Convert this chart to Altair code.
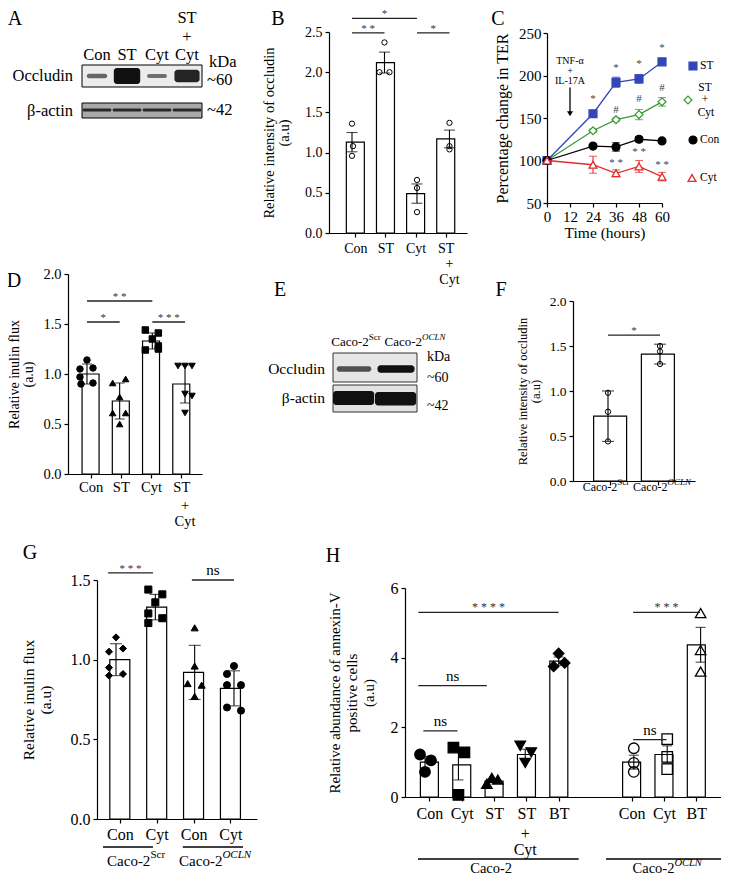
import altair as alt
import pandas as pd

FONT = "Liberation Serif"
W, H = 713, 869
ONE = pd.DataFrame({"k": [0]})


def cx(p):  # reference page x -> chart x
    return p - 8


def cy(p):
    return p - 8


# ---------------- data ----------------
# A: western blot, relative band intensity (read by eye)
a_lanes = ["Con", "ST", "Cyt", "ST|+|Cyt"]
a_occludin = [0.30, 1.00, 0.22, 0.85]
a_actin = [0.85, 0.85, 0.85, 0.85]

# B: relative intensity of occludin
b_cats = ["Con", "ST", "Cyt", "ST|+|Cyt"]
b_mean = [1.13, 2.12, 0.49, 1.17]
b_err = [0.12, 0.13, 0.12, 0.11]
b_pts = [[1.36, 1.08, 0.96], [2.37, 2.00, 2.00], [0.66, 0.56, 0.26], [1.37, 1.08, 1.04]]

# C: percentage change in TER
c_time = [0, 24, 36, 48, 60]
c_names = ["ST", "ST + Cyt", "Con", "Cyt"]
c_st = [100, 155, 192, 196, 216]
c_stcyt = [100, 135, 148, 154, 169]
c_con = [100, 117, 116, 125, 123]
c_cyt = [100, 95, 85, 93, 81]
c_st_err = [0, 3, 6, 5, 3]
c_stcyt_err = [0, 2, 2, 6, 5]
c_con_err = [0, 2, 5, 3, 2]
c_cyt_err = [0, 10, 4, 7, 5]
c_mark_t = [24, 36, 48, 60, 36, 48, 60, 36, 48, 60]
c_mark_v = [172, 209, 213, 232, 159, 172, 185, 97, 110, 95]
c_mark_txt = ["*", "*", "*", "*", "#", "#", "#", "* *", "* *", "* *"]

# D: relative inulin flux
d_cats = ["Con", "ST", "Cyt", "ST|+|Cyt"]
d_mean = [1.00, 0.73, 1.33, 0.90]
d_err = [0.10, 0.18, 0.08, 0.19]
d_pts = [[1.14, 1.05, 1.06, 0.97, 0.91, 0.90],
         [0.95, 0.91, 0.77, 0.61, 0.61, 0.50],
         [1.44, 1.41, 1.35, 1.28, 1.24, 1.25],
         [1.08, 1.08, 1.08, 0.80, 0.78, 0.61]]

# E: western blot
e_lanes = ["Caco-2|Scr", "Caco-2|OCLN"]
e_occludin = [0.55, 1.00]
e_actin = [1.0, 1.0]

# F: relative intensity of occludin
f_mean = [0.72, 1.41]
f_err = [0.28, 0.11]
f_pts = [[0.98, 0.77, 0.44], [1.50, 1.44, 1.30]]

# G: relative inulin flux
g_cats = ["Con", "Cyt", "Con", "Cyt"]
g_mean = [1.00, 1.33, 0.92, 0.82]
g_err = [0.10, 0.08, 0.17, 0.11]
g_pts = [[1.14, 1.05, 1.07, 0.95, 0.90, 0.91],
         [1.44, 1.41, 1.36, 1.29, 1.23, 1.26],
         [1.20, 0.96, 0.85, 0.84, 0.77],
         [0.96, 0.91, 0.84, 0.84, 0.70, 0.68]]

# H: relative abundance of annexin-V positive cells
h_cats = ["Con", "Cyt", "ST", "ST|+|Cyt", "BT", "Con", "Cyt", "BT"]
h_mean = [1.00, 0.92, 0.46, 1.22, 3.90, 1.00, 1.22, 4.37]
h_err = [0.17, 0.43, 0.05, 0.15, 0.12, 0.20, 0.25, 0.50]
h_pts = [[1.22, 1.05, 0.72], [1.42, 1.28, 0.06], [0.38, 0.55, 0.50], [1.47, 1.28, 0.98],
         [4.12, 3.75, 3.85], [1.40, 0.98, 0.72], [1.66, 1.15, 0.80], [5.28, 4.22, 3.60]]

# ---------------- helpers ----------------
TW = {"C": 667, "a": 444, "c": 444, "o": 500, "-": 333, "2": 500, "S": 556, "r": 333,
      "O": 722, "L": 611, "N": 722}
TWI = {"O": 722, "C": 667, "L": 556, "N": 667}


def tw(s, fs, italic=False):
    t = TWI if italic else TW
    return sum(t.get(ch, 500) for ch in s) * fs / 1000


def first_line_expr(vals, labs):
    expr = "''"
    for v, lab in reversed(list(zip(vals, labs))):
        expr = f"datum.value == {v} ? '{lab.split('|')[0]}' : ({expr})"
    return expr


def scale(dom, r0, r1):
    return alt.Scale(domain=list(dom), range=[r0, r1], nice=False, zero=False)


class P:
    def __init__(self, xs, ys):
        self.xs, self.ys = xs, ys

    def X(self, f, axis=None):
        return alt.X(f, scale=self.xs, axis=axis)

    def Y(self, f, axis=None):
        return alt.Y(f, scale=self.ys, axis=axis)

    def XD(self, v):
        return alt.XDatum(v, scale=self.xs, axis=None)

    def YD(self, v):
        return alt.YDatum(v, scale=self.ys, axis=None)


def txt(x, y, text, fs, align="center", baseline="middle", dx=0, dy=0,
        italic=False, color="black"):
    kw = dict(align=align, baseline=baseline, fontSize=fs, dx=dx, dy=dy,
              color=color, text=text, font=FONT)
    if italic:
        kw["fontStyle"] = "italic"
    return alt.Chart(ONE).mark_text(**kw).encode(x=x, y=y)


def sup_label(x, y, main, sup, fs, sfs, italic, extra=0):
    d = (tw(main, fs) - tw(sup, sfs, italic)) / 2 + extra
    return [txt(x, y, main, fs, align="right", dx=d),
            txt(x, y, sup, sfs, align="left", dx=d, dy=-0.38 * fs, italic=italic)]


def bar_panel(cats, pos, means, errs, pts, jit, shapes, fills, *, xr, xd, yr, yd,
              yticks, yfmt, ytitle, tpad, tfs, lfs, lpad, bw, capw, psize,
              sig=(), xlabels=True, tlh=None, pstroke=1.0, more_lines=()):
    xs = scale(xd, cx(xr[0]), cx(xr[1]))
    ys = scale(yd, cy(yr[0]), cy(yr[1]))
    p = P(xs, ys)
    ppu = (xr[1] - xr[0]) / (xd[1] - xd[0])
    lo = [m - e for m, e in zip(means, errs)]
    hi = [m + e for m, e in zip(means, errs)]
    bdf = pd.DataFrame({"pos": pos, "mean": means, "lo": lo, "hi": hi})
    capdf = pd.DataFrame({"pos": list(pos) * 2, "v": lo + hi})
    rows = []
    for i, vals in enumerate(pts):
        for j, v in enumerate(vals):
            rows.append({"x": pos[i] + jit[i][j] / ppu, "v": v,
                         "shape": shapes[i], "fill": fills[i]})
    pdf = pd.DataFrame(rows)
    xax = alt.Axis(orient="bottom", offset=cy(yr[0]) - H, values=list(pos),
                   labelExpr=first_line_expr(pos, cats) if xlabels else "''",
                   title=None, tickSize=4, labelFontSize=lfs, labelPadding=lpad,
                   labelOverlap=False, labelFlush=False, labelBound=False)
    ykw = dict(orient="left", offset=-cx(xr[0]), values=list(yticks), format=yfmt,
               title=ytitle, titlePadding=tpad, titleFontSize=tfs, labelFontSize=lfs,
               tickSize=4, labelFlush=False, labelOverlap=False, labelPadding=3)
    if tlh:
        ykw["titleLineHeight"] = tlh
    yax = alt.Axis(**ykw)
    layers = [
        alt.Chart(bdf).mark_bar(size=bw, orient="vertical", fill="white", stroke="black",
                                strokeWidth=1.2).encode(
            x=p.X("pos:Q", xax), y=p.Y("mean:Q", yax), y2=alt.Y2Datum(0)),
        alt.Chart(bdf).mark_rule(color="black", strokeWidth=1.1).encode(
            x=p.X("pos:Q"), y=p.Y("lo:Q"), y2="hi:Q"),
        alt.Chart(capdf).mark_tick(orient="horizontal", size=capw, thickness=1.1,
                                   color="black").encode(x=p.X("pos:Q"), y=p.Y("v:Q")),
        alt.Chart(pdf).mark_point(opacity=1, stroke="black", strokeWidth=pstroke,
                                  size=psize).encode(
            x=p.X("x:Q"), y=p.Y("v:Q"),
            shape=alt.Shape("shape:N", scale=None),
            fill=alt.Fill("fill:N", scale=None)),
    ]
    if sig:
        sdf = pd.DataFrame([{"x1": a, "x2": b, "xm": (a + b) / 2, "y": y, "label": lab,
                             "fs": fs} for a, b, y, lab, fs in sig])
        layers.append(alt.Chart(sdf).mark_rule(color="#222", strokeWidth=1.3).encode(
            x=p.X("x1:Q"), x2="x2:Q", y=p.Y("y:Q")))
        stars = sdf[sdf["label"] != "ns"]
        nss = sdf[sdf["label"] == "ns"]
        if len(stars):
            layers.append(alt.Chart(stars).mark_text(baseline="alphabetic", dy=-1,
                                                     color="#333", font=FONT).encode(
                x=p.X("xm:Q"), y=p.Y("y:Q"), text="label:N",
                size=alt.Size("fs:Q", scale=None)))
        if len(nss):
            layers.append(alt.Chart(nss).mark_text(baseline="alphabetic", dy=-5,
                                                   color="black", font=FONT).encode(
                x=p.X("xm:Q"), y=p.Y("y:Q"), text="label:N",
                size=alt.Size("fs:Q", scale=None)))
    # extra lines of multi-line category labels
    for v, lab in zip(pos, cats):
        parts = lab.split("|")
        for k, part in enumerate(parts[1:]):
            layers.append(txt(p.XD(v), alt.value(cy(more_lines[k])), part, lfs))
    return layers, p


# ---------------- Panel A (blot) ----------------
pa = P(scale([-0.5, 3.5], cx(82), cx(202)), scale([0, 53], cy(65), cy(118)))
a_box = pd.DataFrame({"x1": [-0.5, -0.5], "x2": [3.5, 3.5], "y1": [0, 38], "y2": [22, 53],
                      "fill": ["#ececec", "#a9a9a9"]})
a_rows = []
for i, v in enumerate(a_occludin):
    hw, hh = 0.30 + 0.14 * v, 1.6 + 6.4 * v * v
    a_rows.append({"x1": i - hw, "x2": i + hw, "y1": 11 - hh, "y2": 11 + hh,
                   "op": 0.45 + 0.55 * v})
for i, v in enumerate(a_actin):
    a_rows.append({"x1": i - 0.48, "x2": i + 0.48, "y1": 45 - 1.5, "y2": 45 + 1.5, "op": v})
a_band = pd.DataFrame(a_rows)
A_layers = [
    alt.Chart(a_box).mark_rect(stroke="black", strokeWidth=1).encode(
        x=pa.X("x1:Q"), x2="x2:Q", y=pa.Y("y1:Q"), y2="y2:Q",
        fill=alt.Fill("fill:N", scale=None)),
    alt.Chart(a_band).mark_rect(cornerRadius=3, color="#111").encode(
        x=pa.X("x1:Q"), x2="x2:Q", y=pa.Y("y1:Q"), y2="y2:Q",
        opacity=alt.Opacity("op:Q", scale=None)),
]
for i, lab in enumerate(a_lanes):
    parts = lab.split("|")
    n = len(parts)
    for k, part in enumerate(parts):
        A_layers.append(txt(pa.XD(i), pa.YD(-10 - (n - 1 - k) * 18.5), part, 16.5))
A_layers += [
    txt(pa.XD(-0.5), pa.YD(11), "Occludin", 16.5, align="right", dx=-9),
    txt(pa.XD(-0.5), pa.YD(46), "β-actin", 16.5, align="right", dx=-9),
    txt(pa.XD(3.5), pa.YD(-3), "kDa", 16.5, align="left", dx=7),
    txt(pa.XD(3.5), pa.YD(15), "~60", 16.5, align="left", dx=5),
    txt(pa.XD(3.5), pa.YD(45), "~42", 16.5, align="left", dx=5),
]

# ---------------- Panel B ----------------
B_layers, pb = bar_panel(
    b_cats, [1, 2, 3, 4], b_mean, b_err, b_pts,
    [[0, 1, 0], [0, -5, 5], [0, 0, 0], [0, 0, 0]],
    ["circle"] * 4, ["transparent"] * 4,
    xr=(329, 467), xd=(0.292, 4.54), yr=(233, 32), yd=(0, 2.5),
    yticks=[0, 0.5, 1.0, 1.5, 2.0, 2.5], yfmt=".1f",
    ytitle=["Relative intensity of occludin", "(a.u)"], tpad=13, tfs=14.5, tlh=15,
    lfs=14, lpad=4, bw=18, capw=11, psize=28,
    sig=[(1, 3, 2.67, "*", 11), (1, 2, 2.49, "* *", 11), (3, 4, 2.49, "*", 11)],
    more_lines=(264, 280))

# ---------------- Panel C ----------------
pc = P(scale([0, 60], cx(547), cx(662)), scale([50, 250], cy(203), cy(33)))
c_colors = ["#3346b8", "#3d9a36", "#000000", "#e52b2b"]
c_fills = ["#3346b8", "white", "#000000", "white"]
c_shapes = ["square", "diamond", "circle", "triangle-up"]
c_xax = alt.Axis(orient="bottom", offset=cy(203) - H, values=[0, 12, 24, 36, 48, 60],
                 title="Time (hours)", titleFontSize=15.5, titlePadding=1, labelFontSize=15,
                 tickSize=4, labelFlush=False, labelOverlap=False, labelPadding=2)
c_yax = alt.Axis(orient="left", offset=-cx(547), values=[50, 100, 150, 200, 250],
                 title="Percentage change in TER", titleFontSize=16, titlePadding=8,
                 labelFontSize=15, tickSize=4, labelFlush=False, labelOverlap=False,
                 labelPadding=2)
C_layers = []
for k, (name, vals, errs) in enumerate(zip(c_names, [c_st, c_stcyt, c_con, c_cyt],
                                           [c_st_err, c_stcyt_err, c_con_err, c_cyt_err])):
    sdf = pd.DataFrame({"t": c_time, "v": vals,
                        "lo": [v - e for v, e in zip(vals, errs)],
                        "hi": [v + e for v, e in zip(vals, errs)], "e": errs})
    edf = sdf[sdf["e"] > 0]
    cdf2 = pd.DataFrame({"t": list(edf["t"]) * 2, "v": list(edf["lo"]) + list(edf["hi"])})
    first = k == 0
    C_layers += [
        alt.Chart(sdf).mark_line(strokeWidth=1.3, color=c_colors[k]).encode(
            x=pc.X("t:Q", c_xax if first else None), y=pc.Y("v:Q", c_yax if first else None)),
        alt.Chart(edf).mark_rule(strokeWidth=1.1, color=c_colors[k]).encode(
            x=pc.X("t:Q"), y=pc.Y("lo:Q"), y2="hi:Q"),
        alt.Chart(cdf2).mark_tick(orient="horizontal", size=8, thickness=1.1,
                                  color=c_colors[k]).encode(x=pc.X("t:Q"), y=pc.Y("v:Q")),
        alt.Chart(sdf).mark_point(opacity=1, strokeWidth=1.3, size=62, shape=c_shapes[k],
                                  fill=c_fills[k], stroke=c_colors[k]).encode(
            x=pc.X("t:Q"), y=pc.Y("v:Q")),
    ]
cmk = pd.DataFrame({"t": c_mark_t, "v": c_mark_v, "label": c_mark_txt})
arrow = pd.DataFrame({"t": [12], "y1": [186], "y2": [155]})
C_layers += [
    alt.Chart(cmk).mark_text(fontSize=11, color="#444", font=FONT).encode(
        x=pc.X("t:Q"), y=pc.Y("v:Q"), text="label:N"),
    alt.Chart(arrow).mark_rule(color="black", strokeWidth=1.3).encode(
        x=pc.X("t:Q"), y=pc.Y("y1:Q"), y2="y2:Q"),
    alt.Chart(arrow).mark_point(shape="triangle-down", filled=True, size=36, color="black",
                                opacity=1).encode(x=pc.X("t:Q"), y=pc.Y("y2:Q")),
    txt(pc.XD(12), pc.YD(217), "TNF-α", 10),
    txt(pc.XD(12), pc.YD(205.5), "+", 10),
    txt(pc.XD(12), pc.YD(194), "IL-17A", 10),
]
# legend (symbols + labels)
leg_y = [66, 100, 140, 178]
leg_x = [693, 688, 693, 692]
for k in range(4):
    C_layers.append(alt.Chart(ONE).mark_point(
        opacity=1, strokeWidth=1.3, size=62, shape=c_shapes[k], fill=c_fills[k],
        stroke=c_colors[k]).encode(x=alt.value(cx(leg_x[k])), y=alt.value(cy(leg_y[k]))))
C_layers += [
    txt(alt.value(cx(700)), alt.value(cy(66)), "ST", 11.5, align="left"),
    txt(alt.value(cx(705)), alt.value(cy(88)), "ST", 11.5),
    txt(alt.value(cx(705)), alt.value(cy(100)), "+", 11.5),
    txt(alt.value(cx(706)), alt.value(cy(113)), "Cyt", 11.5),
    txt(alt.value(cx(700)), alt.value(cy(140)), "Con", 11.5, align="left"),
    txt(alt.value(cx(700)), alt.value(cy(178)), "Cyt", 11.5, align="left"),
]

# ---------------- Panel D ----------------
D_layers, pd_ = bar_panel(
    d_cats, [1, 2, 3, 4], d_mean, d_err, d_pts,
    [[0, -7, 6, -7, 6, -6], [6, -7, 0, -7, 6, 0], [-7, 6, 0, 6, -7, 6], [-7, 0, 7, 0, 7, 0]],
    ["circle", "triangle-up", "square", "triangle-down"], ["black"] * 4,
    xr=(68, 202), xd=(0.419, 4.52), yr=(474, 274), yd=(0, 2.0),
    yticks=[0, 0.5, 1.0, 1.5, 2.0], yfmt=".1f",
    ytitle=["Relative inulin flux", "(a.u)"], tpad=7, tfs=14, tlh=14,
    lfs=14.5, lpad=2, bw=17, capw=10, psize=42,
    sig=[(1, 3, 1.73, "* *", 11), (1, 2, 1.52, "*", 11), (3, 4, 1.52, "* * *", 11)],
    more_lines=(506, 522))

# ---------------- Panel E (blot) ----------------
pe = P(scale([-0.5, 1.5], cx(333), cx(417)), scale([0, 59], cy(353), cy(412)))
e_box = pd.DataFrame({"x1": [-0.5, -0.5], "x2": [1.5, 1.5], "y1": [0, 32], "y2": [29, 59],
                      "fill": ["#e6e6e6", "#e2e2e2"]})
e_rows = []
for i, v in enumerate(e_occludin):
    hw, hh = 0.38 + 0.06 * v, 1.2 + 2.6 * v
    e_rows.append({"x1": i - hw, "x2": i + hw, "y1": 16 - hh, "y2": 16 + hh,
                   "op": 0.35 + 0.65 * v})
for i, v in enumerate(e_actin):
    e_rows.append({"x1": i - 0.5, "x2": i + 0.48, "y1": 38 + i, "y2": 52 + i * 0.5, "op": v})
e_band = pd.DataFrame(e_rows)
E_layers = [
    alt.Chart(e_box).mark_rect(stroke="#333", strokeWidth=1).encode(
        x=pe.X("x1:Q"), x2="x2:Q", y=pe.Y("y1:Q"), y2="y2:Q",
        fill=alt.Fill("fill:N", scale=None)),
    alt.Chart(e_band).mark_rect(cornerRadius=3, color="#111").encode(
        x=pe.X("x1:Q"), x2="x2:Q", y=pe.Y("y1:Q"), y2="y2:Q",
        opacity=alt.Opacity("op:Q", scale=None)),
]
E_layers += sup_label(pe.XD(0), pe.YD(-11), "Caco-2", "Scr", 13, 9, False, extra=2)
E_layers += sup_label(pe.XD(1), pe.YD(-11), "Caco-2", "OCLN", 13, 9, True, extra=19)
E_layers += [
    txt(pe.XD(-0.5), pe.YD(16), "Occludin", 15.5, align="right", dx=-8),
    txt(pe.XD(-0.5), pe.YD(45), "β-actin", 15.5, align="right", dx=-8),
    txt(pe.XD(1.5), pe.YD(4), "kDa", 14, align="left", dx=10),
    txt(pe.XD(1.5), pe.YD(25), "~60", 14, align="left", dx=10),
    txt(pe.XD(1.5), pe.YD(53), "~42", 14, align="left", dx=10),
]

# ---------------- Panel F ----------------
F_layers, pf = bar_panel(
    ["", ""], [1, 2], f_mean, f_err, f_pts, [[0, 0, 0], [0, 0, 0]],
    ["circle"] * 2, ["transparent"] * 2,
    xr=(573, 695), xd=(0.327, 2.673), yr=(481, 301), yd=(0, 2.0),
    yticks=[0, 0.5, 1.0, 1.5, 2.0], yfmt=".1f",
    ytitle=["Relative intensity of occludin", "(a.u)"], tpad=7, tfs=12.5, tlh=13,
    lfs=13.5, lpad=2, bw=33, capw=12, psize=28, xlabels=False,
    sig=[(1, 2, 1.62, "*", 11)])
F_layers += sup_label(pf.XD(1), alt.value(cy(487)), "Caco-2", "Scr", 12, 9, False, extra=-2)
F_layers += sup_label(pf.XD(2), alt.value(cy(487)), "Caco-2", "OCLN", 12, 9, True, extra=2)

# ---------------- Panel G ----------------
G_layers, pg = bar_panel(
    g_cats, [1, 2, 3, 4], g_mean, g_err, g_pts,
    [[0, -7, 7, -7, -7, 7], [-7, 7, 0, -7, -7, 7], [0, 0, -7, 7, 0], [0, -7, 7, -7, -7, 7]],
    ["diamond", "square", "triangle-up", "circle"], ["black"] * 4,
    xr=(97, 257), xd=(0.517, 4.585), yr=(819, 580), yd=(0, 1.5),
    yticks=[0, 0.5, 1.0, 1.5], yfmt=".1f",
    ytitle=["Relative inulin flux", "(a.u)"], tpad=17, tfs=15.5, tlh=17,
    lfs=16, lpad=3, bw=20, capw=12, psize=50,
    sig=[(0.8, 1.94, 1.545, "* * *", 11), (2.93, 4.0, 1.5, "ns", 15)])
G_layers.append(
    alt.Chart(pd.DataFrame({"x1": [0.67, 2.70], "x2": [1.94, 4.23]})).mark_rule(
        color="black", strokeWidth=1.6).encode(
        x=pg.X("x1:Q"), x2="x2:Q", y=alt.value(cy(847))))
G_layers += sup_label(pg.XD(1.51), alt.value(cy(861)), "Caco-2", "Scr", 15, 11, False)
G_layers += sup_label(pg.XD(3.52), alt.value(cy(861)), "Caco-2", "OCLN", 15, 11, True)

# ---------------- Panel H ----------------
h_pos = [1, 2, 3, 4, 5, 7.25, 8.25, 9.25]
H_layers, ph = bar_panel(
    h_cats, h_pos, h_mean, h_err, h_pts,
    [[-5, 6, 0], [-5, 6, 0], [-5, 0, 6], [-5, 6, 0], [0, -5, 6], [0, 0, 0], [0, 0, 0], [0, 0, 0]],
    ["circle", "square", "triangle-up", "triangle-down", "diamond", "circle", "square",
     "triangle-up"],
    ["black"] * 5 + ["transparent"] * 3,
    xr=(405, 723), xd=(0.401, 9.92), yr=(797, 588), yd=(0, 6),
    yticks=[0, 2, 4, 6], yfmt="d",
    ytitle=["Relative abundance of annexin-V", "positive cells", "(a.u)"], tpad=14,
    tfs=15, tlh=17, lfs=16, lpad=4, bw=18, capw=10, psize=110, pstroke=1.3,
    sig=[(0.8, 5.0, 5.3, "* * * *", 12), (0.8, 2.85, 3.2, "ns", 15),
         (0.95, 1.97, 1.9, "ns", 15), (7.23, 9.23, 5.3, "* * *", 12),
         (7.23, 8.23, 1.65, "ns", 15)],
    more_lines=(834, 850))
H_layers += [
    alt.Chart(pd.DataFrame({"x1": [0.79, 6.42], "x2": [5.6, 10.2]})).mark_rule(
        color="black", strokeWidth=1.6).encode(
        x=ph.X("x1:Q"), x2="x2:Q", y=alt.value(cy(859))),
    txt(ph.XD(2.98), alt.value(cy(869)), "Caco-2", 14.5),
]
H_layers += sup_label(ph.XD(8.25), alt.value(cy(869)), "Caco-2", "OCLN", 14.5, 10.5, True)

# ---------------- panel letters ----------------
letters = []
for let, lx, ly in [("A", 15, 19), ("B", 278, 19), ("C", 498, 19), ("D", 14, 281),
                    ("E", 280, 290), ("F", 501, 290), ("G", 30, 553), ("H", 333, 556)]:
    letters.append(txt(alt.value(cx(lx)), alt.value(cy(ly)), let, 20))

all_layers = (A_layers + B_layers + C_layers + D_layers + E_layers + F_layers + G_layers
              + H_layers + letters)

chart = alt.layer(*all_layers).resolve_scale(
    x="independent", y="independent").resolve_axis(
    x="independent", y="independent").properties(
    width=W, height=H, padding=0, autosize=alt.AutoSizeParams(type="none")
).configure_view(stroke=None).configure_axis(
    labelFont=FONT, titleFont=FONT, labelColor="black", titleColor="black",
    domainColor="black", tickColor="black", domainWidth=1.2, tickWidth=1.2, grid=False,
    titleFontWeight="normal"
).configure_text(font=FONT)

chart.save("out.html", embed_options={"renderer": "svg", "actions": False})
